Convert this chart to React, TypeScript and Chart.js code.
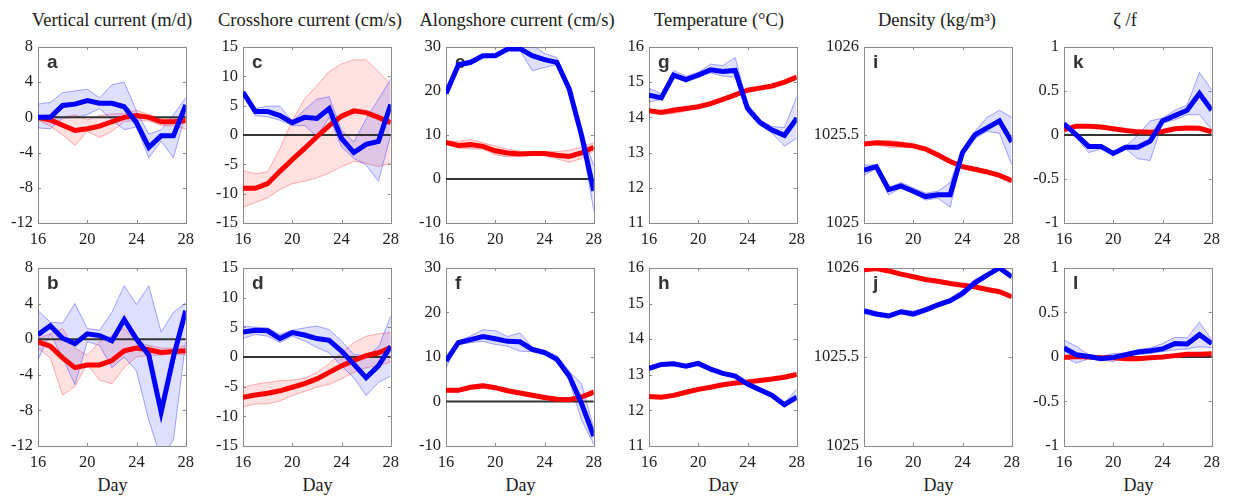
import React, { useEffect, useRef } from "react";
import { Chart, registerables } from "chart.js";

Chart.register(...registerables);

// ---------------- DATA ----------------
const days = [16, 17, 18, 19, 20, 21, 22, 23, 24, 25, 26, 27, 28];

const columnTitles = [
  "Vertical current (m/d)",
  "Crosshore current (cm/s)",
  "Alongshore current (cm/s)",
  "Temperature (°C)",
  "Density (kg/m³)",
  "ζ /f",
];
const xAxisLabel = "Day";
const topLetters = ["a", "c", "e", "g", "i", "k"];
const bottomLetters = ["b", "d", "f", "h", "j", "l"];

const xMin = 16;
const xMax = 28;
const xStep = 4;
const yMins = [-12, -15, -10, 11, 1025, -1];
const yMaxs = [8, 15, 30, 16, 1026, 1];
const ySteps = [4, 5, 10, 1, 0.5, 0.5];
const hasZeroLine = [true, true, true, false, false, true];
const zeroValue = 0;

// a
const aBlue = [0, 0, 1.35, 1.5, 1.9, 1.6, 1.6, 1.2, -0.6, -3.4, -2.1, -2.1, 1.4];
const aBlueHi = [1.5, 1.7, 2.8, 3.0, 3.2, 2.2, 3.7, 4.0, 0.7, -1.9, -1.4, 0.3, 2.2];
const aBlueLo = [-1.2, -1.3, -0.1, 0.0, 0.3, 1.0, -0.3, -1.4, -1.1, -4.6, -2.7, -4.6, 0.5];
const aRed = [0, -0.3, -0.9, -1.5, -1.3, -1.0, -0.5, 0, 0.2, 0, -0.5, -0.5, -0.4];
const aRedHi = [0.2, 0.3, 0, 0.3, -0.3, 0.2, 0.4, 0.4, 0.8, 0.3, -0.1, -0.1, 0.2];
const aRedLo = [-0.3, -1.0, -2.0, -3.2, -1.6, -2.3, -1.6, -0.5, -0.3, -0.4, -0.9, -1.0, -1.3];
// b
const bBlue = [0.5, 1.5, 0.1, -0.5, 0.6, 0.4, -0.2, 2.2, 0, -1.8, -8.2, -2.0, 3.2];
const bBlueHi = [3.2, 1.9, 1.8, 4.0, 1.2, 1.0, 3.0, 6.0, 3.9, 6.0, 0.8, 3.0, 4.1];
const bBlueLo = [-2.3, 0.6, -2.1, -5.1, -0.3, -0.7, -3.2, -2.0, -3.6, -9.1, -13.5, -11.3, -0.3];
const bRed = [-0.3, -0.8, -2.1, -3.2, -2.9, -2.9, -2.4, -1.3, -1.0, -1.2, -1.5, -1.4, -1.3];
const bRedHi = [0.1, 0.6, 1.2, -1.0, -1.8, -0.3, 0.4, 1.2, -0.3, -0.7, -1.0, -1.0, -0.7];
const bRedLo = [-1.0, -2.1, -6.3, -5.3, -2.8, -4.6, -5.0, -3.2, -2.0, -1.8, -1.8, -1.6, -1.8];
// c
const cBlue = [7.3, 4.0, 4.0, 3.3, 2.1, 3.0, 2.8, 4.5, -0.6, -3.0, -1.6, -1.1, 5.2];
const cBlueHi = [7.4, 4.5, 4.9, 4.9, 2.3, 4.3, 6.1, 6.5, 0.8, -1.2, 2.7, 6.1, 9.5];
const cBlueLo = [7.0, 3.3, 3.1, 2.5, 1.6, 1.6, -0.3, 3.0, -2.0, -4.0, -5.1, -7.9, 0.0];
const cRed = [-9.1, -9.1, -8.3, -6.2, -4.2, -2.3, -0.3, 1.6, 3.2, 4.1, 3.8, 3.0, 2.1];
const cRedHi = [-6.1, -6.6, -6.3, -2.3, 2.5, 6.1, 8.4, 10.8, 12.1, 12.8, 12.8, 10.8, 8.6];
const cRedLo = [-12.3, -11.5, -10.7, -9.3, -8.3, -7.9, -7.3, -6.5, -5.4, -4.5, -4.8, -5.4, -4.8];
// d
const dBlue = [4.2, 4.5, 4.4, 3.1, 4.1, 3.7, 3.1, 2.8, 1.0, -1.2, -3.5, -1.5, 1.8];
const dBlueHi = [5.2, 5.0, 4.9, 3.8, 4.5, 4.9, 5.2, 4.6, 2.7, 0.4, 0.2, 1.6, 6.9];
const dBlueLo = [3.1, 3.8, 3.5, 2.4, 3.5, 2.7, 1.6, 0.7, -1.5, -3.5, -6.5, -4.3, -3.2];
const dRed = [-6.8, -6.4, -6.1, -5.7, -5.1, -4.5, -3.7, -2.6, -1.5, -0.6, 0.2, 0.7, 1.6];
const dRedHi = [-5.1, -4.6, -4.3, -4.0, -3.9, -3.6, -2.6, -1.1, 0.7, 2.4, 3.5, 3.9, 4.1];
const dRedLo = [-8.4, -7.9, -7.9, -7.4, -6.5, -5.8, -5.1, -4.6, -3.7, -2.6, -1.8, -1.5, -0.8];
// e
const eBlue = [19.4, 25.9, 26.5, 28.0, 28.0, 29.5, 29.6, 28.0, 27.1, 26.5, 20.5, 10.0, -2.7];
const eBlueHi = [19.8, 26.5, 27.0, 28.3, 28.3, 29.8, 30.5, 30.5, 28.5, 27.6, 21.0, 11.0, 3.0];
const eBlueLo = [19.0, 25.5, 26.0, 27.7, 27.7, 29.2, 29.3, 24.6, 25.3, 26.0, 20.0, 9.0, -7.2];
const eRed = [8.3, 7.6, 7.8, 7.4, 6.4, 5.9, 5.7, 5.8, 5.8, 5.4, 5.1, 5.9, 7.2];
const eRedHi = [8.6, 8.5, 9.0, 8.2, 7.5, 6.8, 6.3, 6.2, 6.2, 6.2, 6.5, 7.2, 8.2];
const eRedLo = [8.0, 7.0, 6.8, 6.8, 5.5, 5.0, 5.2, 5.4, 5.3, 4.6, 3.8, 4.6, 6.3];
// f
const fBlue = [9.1, 13.2, 13.9, 14.6, 14.1, 13.5, 13.4, 11.7, 11.0, 9.5, 5.8, -0.4, -7.8];
const fBlueHi = [10.0, 13.6, 14.7, 16.1, 15.9, 14.6, 15.4, 12.2, 11.5, 10.3, 6.8, 4.0, -6.0];
const fBlueLo = [7.6, 12.8, 13.2, 13.5, 12.8, 12.4, 11.3, 11.2, 10.5, 8.8, 4.8, -4.1, -9.6];
const fRed = [2.5, 2.5, 3.2, 3.5, 3.1, 2.4, 1.9, 1.4, 0.9, 0.5, 0.4, 1.0, 2.1];
const fRedHi = [2.9, 2.9, 3.6, 4.0, 3.5, 2.8, 2.3, 1.8, 1.3, 0.9, 0.8, 1.4, 2.5];
const fRedLo = [2.1, 2.1, 2.8, 3.0, 2.7, 2.0, 1.5, 1.0, 0.5, 0.2, 0.1, 0.6, 1.7];
// g
const gBlue = [14.63, 14.55, 15.2, 15.07, 15.2, 15.35, 15.3, 15.33, 14.25, 13.86, 13.64, 13.49, 13.97];
const gBlueHi = [14.83, 14.67, 15.33, 15.17, 15.28, 15.51, 15.47, 15.7, 14.39, 13.93, 13.74, 13.71, 14.58];
const gBlueLo = [14.44, 14.51, 15.14, 15.0, 15.17, 15.26, 15.17, 15.14, 14.16, 13.78, 13.55, 13.18, 13.41];
const gRed = [14.19, 14.14, 14.2, 14.25, 14.3, 14.39, 14.51, 14.64, 14.77, 14.83, 14.89, 15.0, 15.14];
const gRedHi = [14.23, 14.18, 14.27, 14.3, 14.33, 14.42, 14.55, 14.7, 14.8, 14.86, 14.92, 15.03, 15.17];
const gRedLo = [14.15, 14.1, 14.1, 14.18, 14.26, 14.35, 14.46, 14.6, 14.74, 14.8, 14.86, 14.97, 15.11];
// h
const hBlue = [13.18, 13.29, 13.31, 13.24, 13.32, 13.16, 13.04, 12.96, 12.74, 12.58, 12.42, 12.16, 12.37];
const hBlueHi = [13.24, 13.34, 13.35, 13.29, 13.38, 13.2, 13.08, 13.0, 12.8, 12.63, 12.48, 12.2, 12.6];
const hBlueLo = [13.12, 13.24, 13.27, 13.2, 13.27, 13.12, 13.0, 12.92, 12.68, 12.52, 12.37, 12.12, 12.3];
const hRed = [12.39, 12.37, 12.42, 12.51, 12.59, 12.65, 12.72, 12.77, 12.8, 12.84, 12.88, 12.93, 13.01];
const hRedHi = [12.41, 12.39, 12.44, 12.53, 12.61, 12.67, 12.74, 12.79, 12.82, 12.86, 12.9, 12.95, 13.03];
const hRedLo = [12.37, 12.35, 12.4, 12.49, 12.57, 12.63, 12.7, 12.75, 12.78, 12.82, 12.86, 12.91, 12.99];
// i
const iBlue = [1025.3, 1025.32, 1025.19, 1025.21, 1025.18, 1025.15, 1025.16, 1025.16, 1025.4, 1025.5, 1025.54, 1025.58, 1025.46];
const iBlueHi = [1025.33, 1025.33, 1025.2, 1025.23, 1025.2, 1025.17, 1025.18, 1025.23, 1025.42, 1025.52, 1025.6, 1025.64, 1025.6];
const iBlueLo = [1025.27, 1025.31, 1025.16, 1025.2, 1025.17, 1025.13, 1025.14, 1025.09, 1025.38, 1025.48, 1025.52, 1025.51, 1025.33];
const iRed = [1025.448, 1025.455, 1025.451, 1025.446, 1025.438, 1025.42, 1025.386, 1025.349, 1025.32, 1025.305, 1025.29, 1025.27, 1025.24];
const iRedHi = [1025.46, 1025.465, 1025.47, 1025.46, 1025.45, 1025.43, 1025.4, 1025.36, 1025.33, 1025.315, 1025.3, 1025.28, 1025.25];
const iRedLo = [1025.44, 1025.445, 1025.43, 1025.43, 1025.43, 1025.41, 1025.375, 1025.34, 1025.31, 1025.295, 1025.28, 1025.26, 1025.23];
// j
const jBlue = [1025.758, 1025.741, 1025.73, 1025.754, 1025.741, 1025.764, 1025.792, 1025.816, 1025.857, 1025.916, 1025.959, 1026.0, 1025.95];
const jBlueHi = [1025.772, 1025.752, 1025.742, 1025.765, 1025.758, 1025.776, 1025.802, 1025.826, 1025.875, 1025.935, 1025.97, 1026.01, 1025.965];
const jBlueLo = [1025.744, 1025.728, 1025.72, 1025.744, 1025.726, 1025.752, 1025.782, 1025.806, 1025.84, 1025.9, 1025.948, 1025.99, 1025.935];
const jRed = [1025.99, 1025.996, 1025.983, 1025.965, 1025.95, 1025.935, 1025.925, 1025.912, 1025.903, 1025.894, 1025.879, 1025.866, 1025.838];
const jRedHi = [1025.995, 1026.0, 1025.988, 1025.97, 1025.955, 1025.94, 1025.93, 1025.917, 1025.908, 1025.899, 1025.884, 1025.871, 1025.843];
const jRedLo = [1025.985, 1025.992, 1025.978, 1025.96, 1025.945, 1025.93, 1025.92, 1025.907, 1025.898, 1025.889, 1025.874, 1025.861, 1025.833];
// k
const kBlue = [0.125, 0, -0.13, -0.13, -0.21, -0.14, -0.14, -0.07, 0.16, 0.22, 0.28, 0.47, 0.28];
const kBlueHi = [0.15, 0.02, -0.11, -0.11, -0.19, -0.13, 0.0, 0.16, 0.19, 0.28, 0.34, 0.71, 0.51];
const kBlueLo = [0.1, -0.03, -0.2, -0.16, -0.22, -0.16, -0.27, -0.29, 0.14, 0.17, 0.23, 0.23, 0.06];
const kRed = [0.06, 0.1, 0.1, 0.09, 0.07, 0.05, 0.035, 0.03, 0.04, 0.07, 0.08, 0.075, 0.035];
const kRedHi = [0.075, 0.115, 0.115, 0.105, 0.085, 0.065, 0.05, 0.045, 0.055, 0.085, 0.095, 0.09, 0.05];
const kRedLo = [0.045, 0.085, 0.085, 0.075, 0.055, 0.035, 0.02, 0.015, 0.025, 0.055, 0.065, 0.06, 0.02];
// l
const lBlue = [0.1, 0.025, 0.005, -0.02, -0.005, 0.025, 0.055, 0.07, 0.09, 0.15, 0.145, 0.25, 0.15];
const lBlueHi = [0.19, 0.12, 0.025, 0.005, 0.04, 0.04, 0.08, 0.1, 0.15, 0.22, 0.215, 0.39, 0.19];
const lBlueLo = [0.005, -0.07, -0.02, -0.035, -0.05, 0.005, 0.025, 0.04, 0.06, 0.08, 0.09, 0.115, 0.105];
const lRed = [-0.005, 0.005, 0, -0.01, -0.01, -0.02, -0.02, -0.01, 0, 0.015, 0.03, 0.03, 0.035];
const lRedHi = [0.01, 0.02, 0.015, 0.005, 0.005, -0.005, -0.005, 0.005, 0.015, 0.03, 0.045, 0.045, 0.05];
const lRedLo = [-0.02, -0.01, -0.015, -0.025, -0.025, -0.035, -0.035, -0.025, -0.015, 0, 0.015, 0.015, 0.02];

type Series = {
  blue: number[]; blueHi: number[]; blueLo: number[];
  red: number[]; redHi: number[]; redLo: number[];
};

const topSeries: Series[] = [
  { blue: aBlue, blueHi: aBlueHi, blueLo: aBlueLo, red: aRed, redHi: aRedHi, redLo: aRedLo },
  { blue: cBlue, blueHi: cBlueHi, blueLo: cBlueLo, red: cRed, redHi: cRedHi, redLo: cRedLo },
  { blue: eBlue, blueHi: eBlueHi, blueLo: eBlueLo, red: eRed, redHi: eRedHi, redLo: eRedLo },
  { blue: gBlue, blueHi: gBlueHi, blueLo: gBlueLo, red: gRed, redHi: gRedHi, redLo: gRedLo },
  { blue: iBlue, blueHi: iBlueHi, blueLo: iBlueLo, red: iRed, redHi: iRedHi, redLo: iRedLo },
  { blue: kBlue, blueHi: kBlueHi, blueLo: kBlueLo, red: kRed, redHi: kRedHi, redLo: kRedLo },
];
const bottomSeries: Series[] = [
  { blue: bBlue, blueHi: bBlueHi, blueLo: bBlueLo, red: bRed, redHi: bRedHi, redLo: bRedLo },
  { blue: dBlue, blueHi: dBlueHi, blueLo: dBlueLo, red: dRed, redHi: dRedHi, redLo: dRedLo },
  { blue: fBlue, blueHi: fBlueHi, blueLo: fBlueLo, red: fRed, redHi: fRedHi, redLo: fRedLo },
  { blue: hBlue, blueHi: hBlueHi, blueLo: hBlueLo, red: hRed, redHi: hRedHi, redLo: hRedLo },
  { blue: jBlue, blueHi: jBlueHi, blueLo: jBlueLo, red: jRed, redHi: jRedHi, redLo: jRedLo },
  { blue: lBlue, blueHi: lBlueHi, blueLo: lBlueLo, red: lRed, redHi: lRedHi, redLo: lRedLo },
];

// ---------------- LAYOUT & STYLE ----------------
const COL_LEFT = [38, 243, 446, 649, 864, 1064];
const PLOT_W = 149;
const ROW_TOP = [44, 265];
const ROW_BOTTOM = [223, 446];
const TITLE_CX = [112, 310, 517, 719, 937, 1125];
const PAD_L = 70;
const PAD_T = 12;
const PAD_R = 14;
const PAD_B = 40;

const SERIF_FAMILY = "Liberation Serif, Times New Roman, Times, serif";
const SANS_FAMILY = "Liberation Sans, Arial, Helvetica, sans-serif";
const TEXT_COLOR = "#202020";
const BOX_COLOR = "#8a8a8a";

Chart.defaults.font.family = SERIF_FAMILY;
Chart.defaults.font.size = 16;
Chart.defaults.color = TEXT_COLOR;

const pts = (arr: number[]) => days.map((d, i) => ({ x: d, y: arr[i] }));

const boxPlugin = {
  id: "matlabBox",
  beforeDatasetsDraw(chart: any) {
    const { ctx, chartArea } = chart;
    const { left, top, right, bottom } = chartArea;
    ctx.save();
    ctx.strokeStyle = BOX_COLOR;
    ctx.lineWidth = 1;
    ctx.strokeRect(Math.round(left) + 0.5, Math.round(top) + 0.5, Math.round(right - left), Math.round(bottom - top));
    const xs = chart.scales.x;
    const ys = chart.scales.y;
    const tl = 3;
    ctx.beginPath();
    xs.ticks.forEach((t: any) => {
      const px = Math.round(xs.getPixelForValue(t.value)) + 0.5;
      ctx.moveTo(px, bottom);
      ctx.lineTo(px, bottom - tl);
      ctx.moveTo(px, top);
      ctx.lineTo(px, top + tl);
    });
    ys.ticks.forEach((t: any) => {
      const py = Math.round(ys.getPixelForValue(t.value)) + 0.5;
      ctx.moveTo(left, py);
      ctx.lineTo(left + tl, py);
      ctx.moveTo(right, py);
      ctx.lineTo(right - tl, py);
    });
    ctx.stroke();
    const letter = chart.options.plugins.matlabBox.letter;
    ctx.fillStyle = "#333333";
    ctx.font = `bold 19px ${SANS_FAMILY}`;
    ctx.textBaseline = "alphabetic";
    ctx.textAlign = "left";
    ctx.fillText(letter, left + 9, top + 21);
    ctx.restore();
  },
};

function Panel({ col, row, s, letter }: { col: number; row: number; s: Series; letter: string }) {
  const ref = useRef<HTMLCanvasElement>(null);
  const plotH = ROW_BOTTOM[row] - ROW_TOP[row];
  const width = PLOT_W + PAD_L + PAD_R;
  const height = plotH + PAD_T + PAD_B;
  useEffect(() => {
    const tickFont = { family: SERIF_FAMILY, size: 16.5, weight: "normal" };
    const datasets: any[] = [
      { data: pts(s.blue), borderColor: "#0000ff", borderWidth: 5, fill: false },
      { data: pts(s.red), borderColor: "#ff0000", borderWidth: 5, fill: false },
    ];
    if (hasZeroLine[col]) {
      datasets.push({ data: pts(days.map(() => zeroValue)), borderColor: "#333333", borderWidth: 2, fill: false });
    }
    datasets.push(
      { data: pts(s.blueHi), borderColor: "rgba(40,40,255,0.5)", borderWidth: 0.8, fill: "+1", backgroundColor: "rgba(40,40,255,0.15)" },
      { data: pts(s.blueLo), borderColor: "rgba(40,40,255,0.5)", borderWidth: 0.8, fill: false },
      { data: pts(s.redHi), borderColor: "rgba(255,40,40,0.45)", borderWidth: 0.8, fill: "+1", backgroundColor: "rgba(255,40,40,0.14)" },
      { data: pts(s.redLo), borderColor: "rgba(255,40,40,0.45)", borderWidth: 0.8, fill: false }
    );
    const chart = new Chart(ref.current as HTMLCanvasElement, {
      type: "line",
      data: { datasets },
      options: {
        animation: false,
        responsive: false,
        devicePixelRatio: 1,
        layout: { padding: { left: 0, top: PAD_T, right: PAD_R, bottom: 0 }, autoPadding: false },
        elements: { point: { radius: 0, hoverRadius: 0 }, line: { tension: 0 } },
        plugins: {
          legend: { display: false },
          tooltip: { enabled: false },
          matlabBox: { letter },
        } as any,
        scales: {
          x: {
            type: "linear",
            min: xMin,
            max: xMax,
            border: { display: false },
            grid: { display: false, drawTicks: false },
            ticks: {
              stepSize: xStep,
              padding: 7,
              color: TEXT_COLOR,
              font: tickFont,
              maxRotation: 0,
              autoSkip: false,
              callback: (v: any) => String(v),
            },
            afterFit: (sc: any) => {
              sc.height = PAD_B;
            },
          },
          y: {
            type: "linear",
            min: yMins[col],
            max: yMaxs[col],
            border: { display: false },
            grid: { display: false, drawTicks: false },
            ticks: {
              stepSize: ySteps[col],
              padding: 5,
              color: TEXT_COLOR,
              font: tickFont,
              autoSkip: false,
              callback: (v: any) => String(Math.round(Number(v) * 1000) / 1000),
            },
            afterFit: (sc: any) => {
              sc.width = PAD_L;
            },
          },
        },
      } as any,
      plugins: [boxPlugin as any],
    });
    return () => chart.destroy();
  }, []);
  return (
    <canvas
      ref={ref}
      width={width}
      height={height}
      style={{
        position: "absolute",
        left: COL_LEFT[col] - PAD_L,
        top: ROW_TOP[row] - PAD_T,
        width,
        height,
      }}
    />
  );
}

export default function App() {
  return (
    <div
      style={{
        position: "fixed",
        left: 0,
        top: 0,
        width: 1236,
        height: 500,
        background: "#ffffff",
        overflow: "hidden",
        fontFamily: SERIF_FAMILY,
        color: TEXT_COLOR,
      }}
    >
      {columnTitles.map((t, c) => (
        <div
          key={"t" + c}
          style={{
            position: "absolute",
            left: TITLE_CX[c] - 150,
            width: 300,
            top: 10.5,
            textAlign: "center",
            fontSize: 18.5,
            lineHeight: 1,
            whiteSpace: "nowrap",
          }}
        >
          {t}
        </div>
      ))}
      {COL_LEFT.map((l, c) => (
        <div
          key={"d" + c}
          style={{
            position: "absolute",
            left: l + PLOT_W / 2 - 50,
            width: 100,
            top: 476,
            textAlign: "center",
            fontSize: 18,
            lineHeight: 1,
          }}
        >
          {xAxisLabel}
        </div>
      ))}
      {topSeries.map((s, c) => (
        <Panel key={"top" + c} col={c} row={0} s={s} letter={topLetters[c]} />
      ))}
      {bottomSeries.map((s, c) => (
        <Panel key={"bot" + c} col={c} row={1} s={s} letter={bottomLetters[c]} />
      ))}
    </div>
  );
}
